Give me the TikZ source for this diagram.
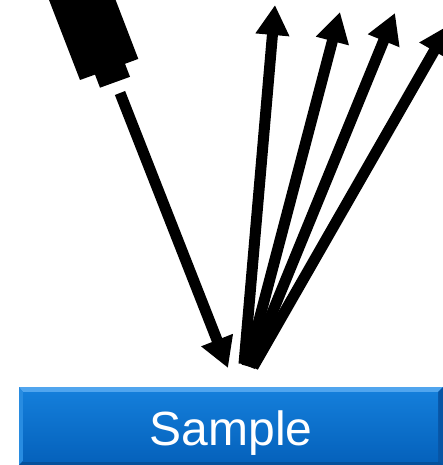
\documentclass[tikz,border=0pt]{standalone}
\usepackage{fontspec}
\setmainfont{Liberation Sans}
\usetikzlibrary{arrows.meta}
\definecolor{boxtop}{RGB}{20,126,218}
\definecolor{boxbot}{RGB}{5,98,188}
\definecolor{bevtop}{RGB}{80,165,238}
\definecolor{bevleft}{RGB}{40,140,225}
\definecolor{bevright}{RGB}{8,85,165}
\definecolor{bevbot}{RGB}{5,80,155}
\tikzset{
  ray/.style={line width=11pt, -{Triangle[length=30pt,width=32pt]}},
}
\begin{document}
\begin{tikzpicture}[x=1pt,y=-1pt]
\useasboundingbox (0,0) rectangle (443,465);
\clip (0,0) rectangle (443,465);
% detector
\fill[black] (44,-13) -- (80,80) -- (95,74.6) -- (100,87.7) -- (130,76.8) -- (125,63.8) -- (138.3,58.9) -- (106,-25) -- cycle;
% sample box
\shade[top color=boxtop, bottom color=boxbot] (19,387) rectangle (443,465);
\fill[bevtop] (19,387) -- (443,387) -- (438,392) -- (23,392) -- cycle;
\fill[bevleft] (19,387) -- (23,392) -- (23,461) -- (19,465) -- cycle;
\fill[bevright] (443,387) -- (438,392) -- (438,461) -- (443,465) -- cycle;
\fill[bevbot] (19,465) -- (23,461) -- (438,461) -- (443,465) -- cycle;
\shade[top color=boxtop, bottom color=boxbot] (23,392) rectangle (438,461);
\node[text=white, font=\fontsize{48}{50}\selectfont, anchor=base] (sample) at (231,445) {Sample};
% coordinates
\coordinate (src) at (120,93);
\coordinate (hit) at (228,368);
\coordinate (s1) at (244,364);
\coordinate (s2) at (247,366);
\coordinate (s3) at (250,367);
\coordinate (s4) at (253,367);
\coordinate (t1) at (275,5);
\coordinate (t2) at (340,12);
\coordinate (t3) at (395,13);
\coordinate (t4) at (449,25);
% rays
\draw[ray] (src) -- (hit);
\draw[ray] (s1) -- (t1);
\draw[ray] (s2) -- (t2);
\draw[ray] (s3) -- (t3);
\draw[ray] (s4) -- (t4);
\end{tikzpicture}
\end{document}
